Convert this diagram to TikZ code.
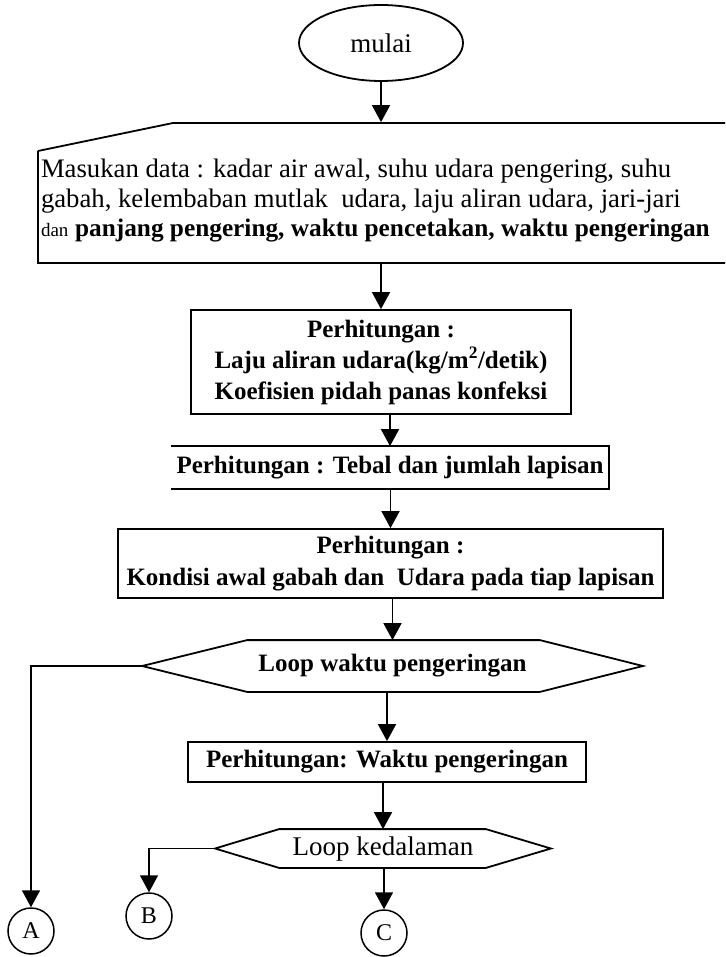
\documentclass[tikz,border=0pt]{standalone}
\usepackage{fontspec}
\setmainfont{Liberation Serif}
\usepackage{tikz}
\usetikzlibrary{arrows.meta,shapes.geometric}

\begin{document}
\begin{tikzpicture}[x=1pt,y=-1pt,line width=1.8pt,
	>={Triangle[width=18pt,length=17pt]},
	kotak/.style={draw=black,inner sep=0pt,align=center,font=\fontsize{25}{31}\selectfont\bfseries},
	konektor/.style={shape=circle,draw=black,line width=1.5pt,minimum size=46pt,inner sep=0pt,font=\fontsize{24}{24}\selectfont}]
	
	\useasboundingbox (0,0) rectangle (725,957);
	
	\node[shape=ellipse,draw=black,minimum width=164pt,minimum height=76pt,inner sep=0pt,font=\fontsize{27}{27}\selectfont] (mulai) at (381,43) {mulai};
	
	\node[inner sep=0pt,minimum width=686pt,minimum height=140pt,font=\fontsize{26.7}{29.5}\selectfont] (input) at (381,193) {\raisebox{-8pt}[\height][\depth]{\parbox{680pt}{\raggedright\lineskiplimit=-100pt
	\mbox{Masukan data : kadar air awal, suhu udara pengering, suhu}\\
	\mbox{gabah, kelembaban mutlak \ udara, laju aliran udara, jari-jari}\\
	\mbox{{\fontsize{19}{19}\selectfont dan} {\fontsize{25.3}{29}\selectfont\bfseries panjang pengering, waktu pencetakan, waktu pengeringan}}}}};
	\draw (38,151) -- (173,123) -- (725,123) (38,151) -- (38,263) -- (725,263);
	
	\node[kotak,minimum width=380pt,minimum height=104pt] (hitung1) at (381,362) {Perhitungan :\\ Laju aliran udara(kg/m\textsuperscript{2}/detik)\\ Koefisien pidah panas konfeksi};
	
	\node[kotak,draw=none,minimum width=436pt,minimum height=41pt] (hitung2) at (390,467.5) {Perhitungan : Tebal dan jumlah lapisan};
	\draw (hitung2.north west) -- (hitung2.north east) -- (hitung2.south east) -- (hitung2.south west);
	
	\node[kotak,minimum width=545pt,minimum height=69pt,font=\fontsize{25}{32}\selectfont\bfseries] (hitung3) at (390.5,563.5) {Perhitungan :\\ Kondisi awal gabah dan \ Udara pada tiap lapisan};
	
	\node[kotak,draw=none,minimum width=499pt,minimum height=50pt] (loop1) at (392.5,666) {Loop waktu pengeringan};
	\draw (loop1.west) -- ([xshift=105pt]loop1.north west) -- ([xshift=-103pt]loop1.north east) -- (loop1.east) -- ([xshift=-103pt]loop1.south east) -- ([xshift=105pt]loop1.south west) -- cycle;
	
	\node[kotak,minimum width=398pt,minimum height=40pt] (hitung4) at (387,762) {Perhitungan: Waktu pengeringan};
	
	\node[inner sep=0pt,minimum width=334pt,minimum height=37pt,font=\fontsize{27}{27}\selectfont] (loop2) at (383,848.5) {Loop kedalaman};
	\draw (loop2.west) -- ([xshift=64pt]loop2.north west) -- ([xshift=-65pt]loop2.north east) -- (loop2.east) -- ([xshift=-65pt]loop2.south east) -- ([xshift=64pt]loop2.south west) -- cycle;
	
	\node[konektor] (A) at (31,931) {A};
	\node[konektor] (B) at (149,916) {B};
	\node[konektor] (C) at (384,933) {C};
	
	\path[->] (mulai.south) edge (mulai.south |- input.north);
	\path[->] (input.south -| hitung1) edge (hitung1.north);
	\path[->] (hitung1.south -| hitung2) edge (hitung2.north);
	\path[->] (hitung2.south -| hitung3) edge (hitung3.north);
	\path[->] (hitung3.south -| loop1) edge (loop1.north);
	\path[->] (loop1.south -| hitung4) edge (hitung4.north);
	\path[->] (hitung4.south -| loop2) edge (loop2.north);
	\path[->] (loop2.south -| C) edge (C.north);
	\draw[->] (loop1.west) -| (A.north);
	\draw[->] (loop2.west) -| (B.north);
\end{tikzpicture}
\end{document}
